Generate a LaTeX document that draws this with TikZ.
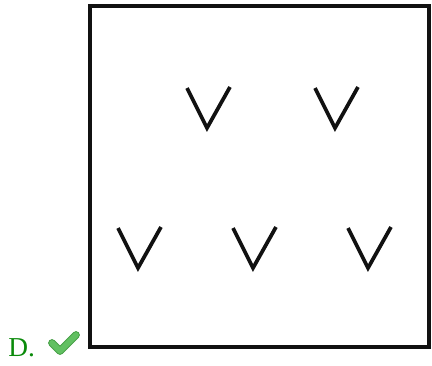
\documentclass[tikz,border=0pt]{standalone}
\usepackage{fontspec}
\setmainfont{Liberation Serif}
\usepackage{xcolor}
\usepackage{tikz}
\usetikzlibrary{calc,positioning}
\definecolor{AnswerGreen}{HTML}{0A8A0A}
\definecolor{TickGreen}{HTML}{62C062}
\definecolor{TickEdge}{HTML}{3F9A3F}
\definecolor{Ink}{HTML}{111111}
\tikzset{
  framebox/.style={draw=Ink, line width=3pt},
  chevron/.style={draw=Ink, line width=2.8pt, line join=miter},
  answerlabel/.style={
    font=\fontsize{20.5}{22}\selectfont,
    text=AnswerGreen,
    inner sep=0pt,
    anchor=base west
  },
  tickmark/.style={
    draw=TickGreen,
    line width=4.4pt,
    line cap=round,
    line join=round,
    preaction={draw=TickEdge, line width=5.8pt, line cap=round, line join=round}
  }
}

\begin{document}
\begin{tikzpicture}[x=0.75pt, y=-0.75pt]
  \useasboundingbox (0,0) rectangle (432,365);

  % the frame
  \draw[framebox] (89.5,5.5) rectangle (428.5,346.5);

  % five chevrons: apex x, apex y
  \foreach \ax/\ay [count=\i] in {207/128, 335/128, 138/268, 253/268, 368/268} {
    \coordinate (v\i) at (\ax,\ay);
    \draw[chevron] ($(v\i)+(-20,-40)$) -- (v\i) -- ($(v\i)+(23,-41)$);
  }

  % answer label
  \node[answerlabel] (ans) at (8,356) {D.};
  \coordinate (tickA) at (52,343);
  \coordinate (tickB) at (60,351);
  \coordinate (tickC) at (76,335);
  \draw[tickmark] (tickA) -- (tickB) -- (tickC);
\end{tikzpicture}
\end{document}
